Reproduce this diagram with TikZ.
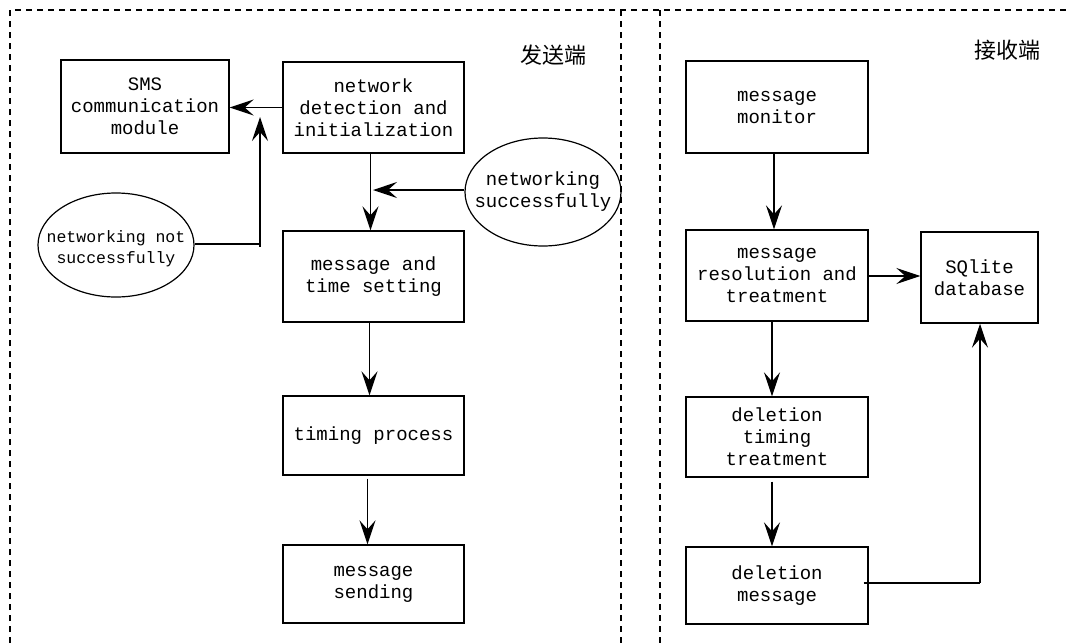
\documentclass[tikz,border=0pt]{standalone}
\usepackage{fontspec}
\setmonofont{Liberation Mono}
\newfontfamily\cjk{Noto Sans CJK SC}
\usetikzlibrary{arrows.meta,shapes.geometric}
\tikzset{
  x=1pt, y=-1pt,
  every node/.style={font=\fontsize{19}{22}\selectfont\ttfamily, align=center, inner sep=0pt},
  box/.style={draw, line width=1.4pt, minimum width=181pt},
  oval/.style={draw, ellipse, line width=1.2pt, minimum width=156pt},
  flow/.style={line width=1.3pt, -{Stealth[length=24pt,width=16pt,inset=9pt]}},
  plain/.style={line width=1.3pt},
  frame/.style={line width=1.1pt, dash pattern=on 6pt off 5pt},
  tag/.style={font=\fontsize{22}{24}\selectfont\cjk}
}
\begin{document}
\begin{tikzpicture}
\useasboundingbox (0,0) rectangle (1067,643);

% dashed frames of the two sides
\draw[frame] (10,643) -- (10,10) -- (1067,10);
\draw[frame] (621,10) -- (621,643);
\draw[frame] (660,10) -- (660,643);

\node[tag] (sendtag) at (553,55) {发送端};
\node[tag] (recvtag) at (1007,50) {接收端};

% sender side
\node[box, minimum width=168pt, minimum height=93pt] (sms) at (145,106.5) {SMS\\communication\\module};
\node[box, minimum height=91pt] (net) at (373.5,107.5) {network\\detection and\\initialization};
\node[box, minimum height=91pt] (mt) at (373.5,276.5) {message and\\time setting};
\node[box, minimum height=79pt] (tp) at (373.5,435.5) {timing process};
\node[box, minimum height=78pt] (ms) at (373.5,584) {message\\sending};

% the two outcome ovals, with their labels set on top
\node[oval, minimum height=104pt] (nok) at (116,245) {};
\node[font=\fontsize{16.5}{21}\selectfont\ttfamily] (noktext) at ([yshift=-4pt]nok.center) {networking not\\successfully};
\node[oval, minimum height=108pt] (ok) at (543,192) {};
\node (oktext) at (ok.center) {networking\\successfully};

\coordinate (nokturn) at (260,244);
\coordinate (noktip) at (260,117);
\coordinate (oktip) at (373,190);

\draw[flow] (net.west) -- (net.west -| sms.east);
\draw[plain] (nok.east |- nokturn) -- (nokturn) -- ++(0,3);
\draw[flow] (nokturn) -- (noktip);
\draw[flow] ([xshift=-3pt]net.south) -- ([xshift=-3pt]mt.north);
\draw[flow] (ok.west |- oktip) -- (oktip);
\draw[flow] ([xshift=-4pt]mt.south) -- ([xshift=-4pt]tp.north);
\draw[flow] ([xshift=-6pt,yshift=-3pt]tp.south) -- ([xshift=-6pt]ms.north);

% receiver side
\node[box, minimum width=182pt, minimum height=92pt] (mon) at (777,107) {message\\monitor};
\node[box, minimum width=182pt, minimum height=91pt] (res) at (777,275.5) {message\\resolution and\\treatment};
\node[box, minimum width=182pt, minimum height=80pt] (dt) at (777,437) {deletion\\timing\\treatment};
\node[box, minimum width=182pt, minimum height=77pt] (dm) at (777,585.5) {deletion\\message};
\node[box, minimum width=117pt, minimum height=91pt] (db) at (979.5,277.5) {SQlite\\database};

\coordinate (dbturn) at (980,583);

\draw[flow] ([xshift=-3pt]mon.south) -- ([xshift=-3pt]res.north);
\draw[flow] (res.east |- 0,276) -- (db.west |- 0,276);
\draw[flow] ([xshift=-5pt]res.south) -- ([xshift=-5pt]dt.north);
\draw[flow] ([xshift=-5pt,yshift=-4pt]dt.south) -- ([xshift=-5pt]dm.north);
\draw[plain] ([xshift=-5pt]dm.east |- dbturn) -- (dbturn);
\draw[flow] (dbturn) -- (dbturn |- db.south);
\end{tikzpicture}
\end{document}
